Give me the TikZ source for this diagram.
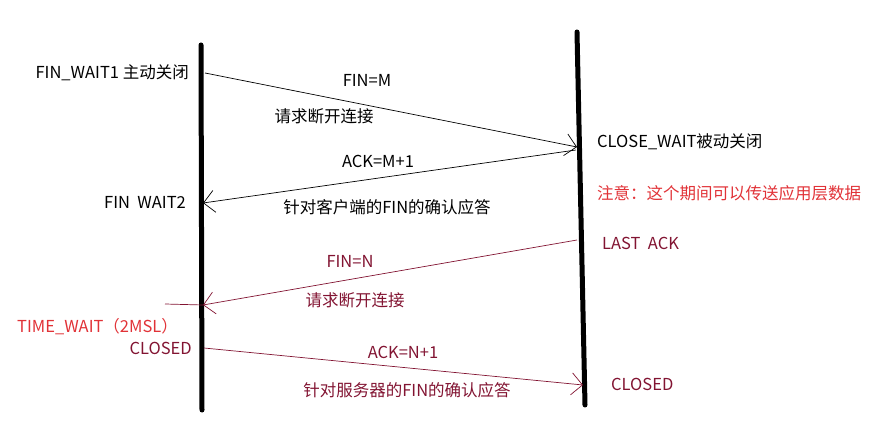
\documentclass[tikz,border=0pt]{standalone}
\usepackage{fontspec}
\setmainfont{Noto Sans CJK SC}
\usetikzlibrary{arrows.meta,positioning}
\definecolor{linered}{RGB}{130,20,50}
\definecolor{notered}{RGB}{225,50,55}

\begin{document}
\begin{tikzpicture}
[x=1pt,y=-1pt,
 >={Straight Barb[length=11pt,width=22pt]},
 lifeline/.style={line width=5pt,line cap=round},
 msg/.style={->,line width=0.7pt},
 statetext/.style={font=\fontsize{16.5}{19}\selectfont,inner sep=0pt},
 msgtext/.style={font=\fontsize{16.5}{19}\selectfont,inner sep=0pt}]
\useasboundingbox (0,0) rectangle (876,430);
% lifelines
\coordinate (ltop) at (201,45);
\coordinate (lbot) at (202,410);
\coordinate (rtop) at (577,32);
\coordinate (rbot) at (585,405);
\draw[lifeline] (ltop) -- (lbot);
\draw[lifeline] (rtop) -- (rbot);
% message ends
\coordinate (m1s) at (205,73);
\coordinate (m1e) at (577,147);
\coordinate (m2s) at (576,150);
\coordinate (m2e) at (203,203);
\coordinate (m3s) at (577,240);
\coordinate (m3e) at (203,305);
\coordinate (stub) at (165,304);
\coordinate (m4s) at (204,348);
\coordinate (m4e) at (583,385);
% states
\node[statetext,anchor=east] (fw1) at (189,73) {FIN\_WAIT1 主动关闭};
\node[statetext,anchor=east] (fw2) at (186,202) {FIN\ \ WAIT2};
\node[statetext,anchor=west,text=notered] (tw) at (17,327) {TIME\_WAIT（2MSL）};
\node[statetext,anchor=east,text=linered] (lcl) at (192,348) {CLOSED};
\node[statetext,anchor=west] (cw) at (597,142) {CLOSE\_WAIT被动关闭};
\node[statetext,anchor=west,text=notered] (note) at (597,193) {注意：这个期间可以传送应用层数据};
\node[statetext,anchor=west,text=linered] (la) at (602,243) {LAST\ \ ACK};
\node[statetext,anchor=west,text=linered] (rcl) at (611,384) {CLOSED};
% messages
\draw[msg] (m1s) -- (m1e);
\node[msgtext] (t1) at (367,80) {FIN=M};
\node[msgtext] (t1b) at (324,116) {请求断开连接};
\draw[msg] (m2s) -- (m2e);
\node[msgtext] (t2) at (378,161) {ACK=M+1};
\node[msgtext] (t2b) at (387,207) {针对客户端的FIN的确认应答};
\draw[msg,linered] (m3s) -- (m3e);
\draw[linered,line width=0.7pt] (stub) -- (m3e);
\node[msgtext,text=linered] (t3) at (350,261) {FIN=N};
\node[msgtext,text=linered] (t3b) at (355,300) {请求断开连接};
\draw[msg,linered] (m4s) -- (m4e);
\node[msgtext,text=linered] (t4) at (403,352) {ACK=N+1};
\node[msgtext,text=linered] (t4b) at (407,390) {针对服务器的FIN的确认应答};
\end{tikzpicture}
\end{document}
